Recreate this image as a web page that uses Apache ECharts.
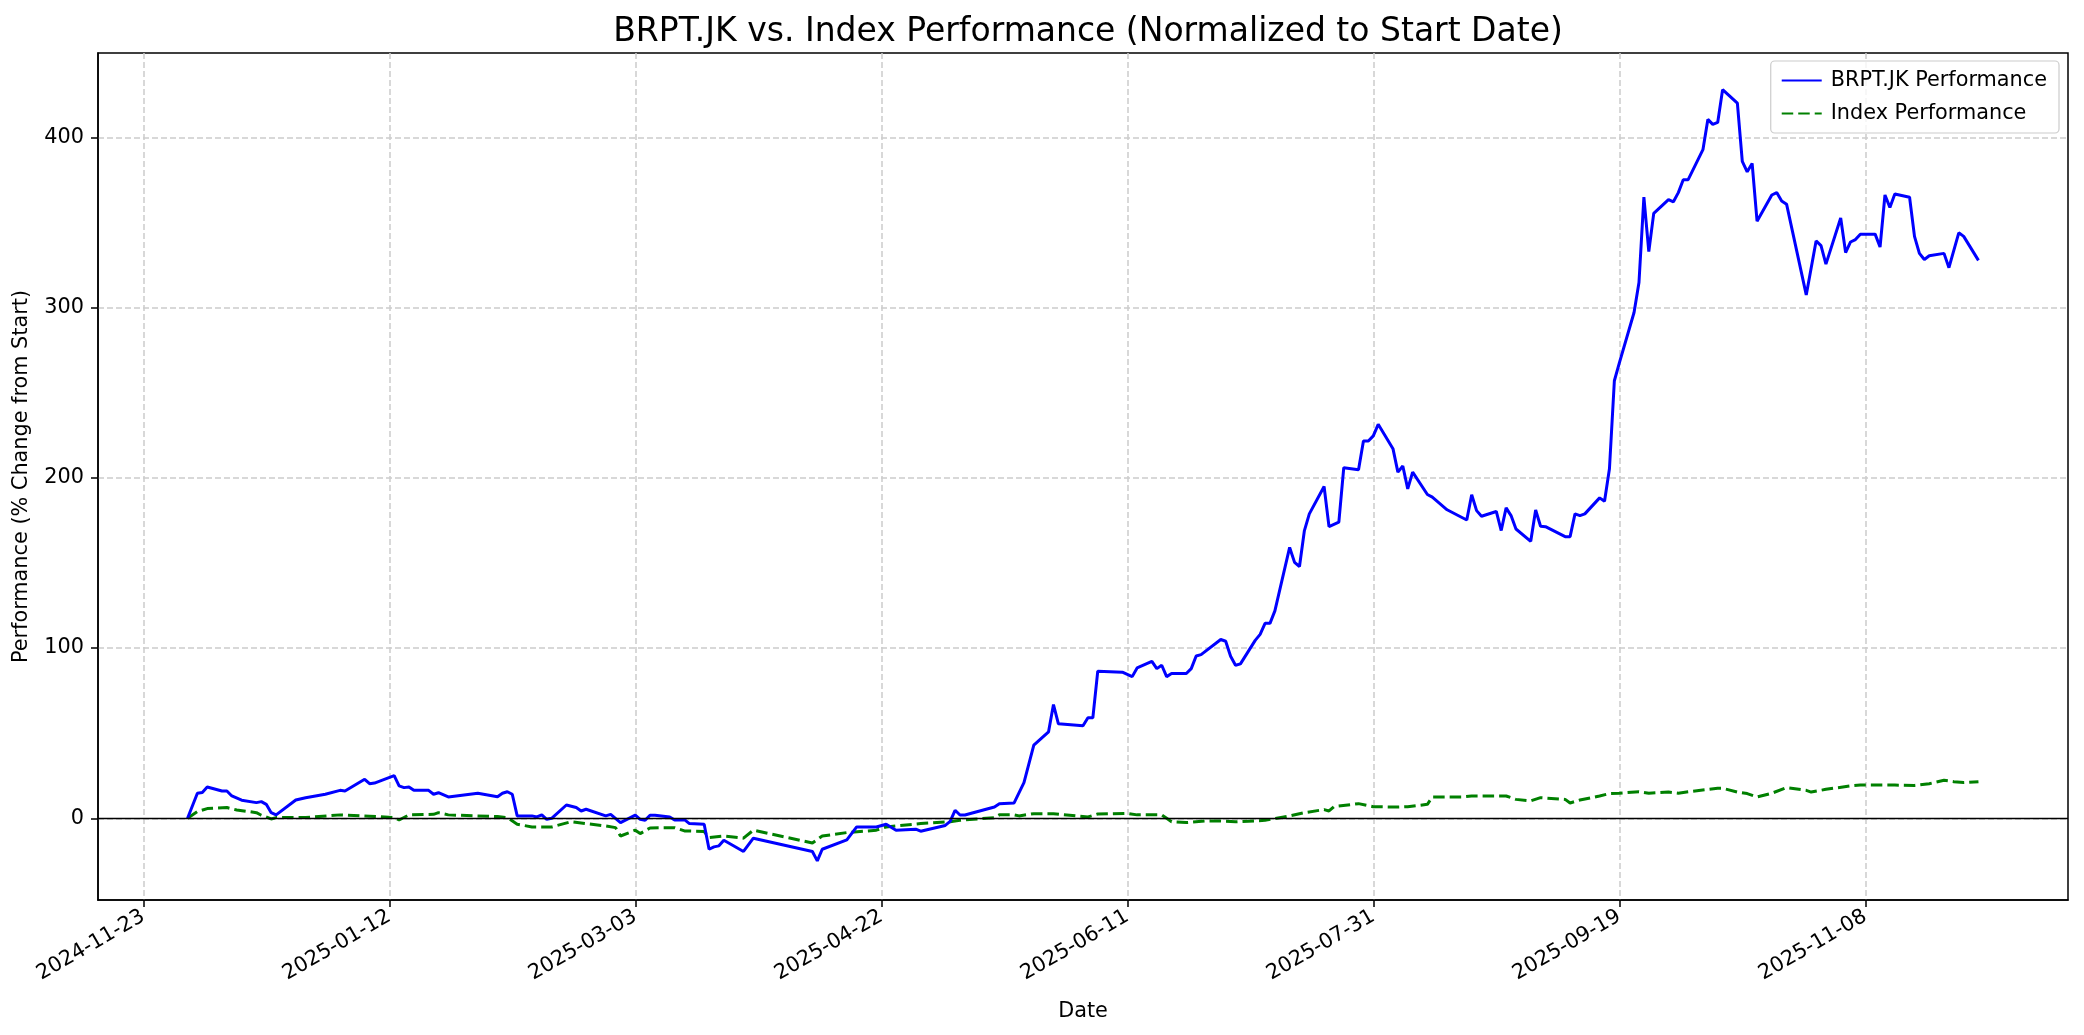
<!DOCTYPE html>
<html>
<head>
<meta charset="utf-8">
<script src="https://cdn.jsdelivr.net/npm/echarts@6/dist/echarts.min.js"></script>
<style>
html,body{margin:0;padding:0;background:#fff;}
#chart{width:2084px;height:1035px;}
</style>
</head>
<body>
<div id="chart"></div>
<script>
// ---- data ----
const startDate = '2024-11-23';
const tickLabels = ['2024-11-23','2025-01-12','2025-03-03','2025-04-22','2025-06-11','2025-07-31','2025-09-19','2025-11-08'];

const brptDates = ['2024-12-02','2024-12-04','2024-12-05','2024-12-06','2024-12-09','2024-12-10','2024-12-11','2024-12-13','2024-12-16','2024-12-17','2024-12-18','2024-12-19','2024-12-20','2024-12-24','2024-12-26','2024-12-30',
'2025-01-02','2025-01-03','2025-01-07','2025-01-08','2025-01-09','2025-01-13','2025-01-14','2025-01-15','2025-01-16','2025-01-17','2025-01-20','2025-01-21','2025-01-22','2025-01-24','2025-01-30',
'2025-02-03','2025-02-04','2025-02-05','2025-02-06','2025-02-07','2025-02-10','2025-02-11','2025-02-12','2025-02-13','2025-02-14','2025-02-17','2025-02-19','2025-02-20','2025-02-21','2025-02-25','2025-02-26','2025-02-28',
'2025-03-03','2025-03-04','2025-03-05','2025-03-06','2025-03-07','2025-03-10','2025-03-11','2025-03-13','2025-03-14','2025-03-17','2025-03-18','2025-03-19','2025-03-20','2025-03-21','2025-03-25','2025-03-27',
'2025-04-08','2025-04-09','2025-04-10','2025-04-15','2025-04-17','2025-04-21','2025-04-23','2025-04-25','2025-04-29','2025-04-30',
'2025-05-05','2025-05-06','2025-05-07','2025-05-08','2025-05-09','2025-05-15','2025-05-16','2025-05-19','2025-05-21','2025-05-23','2025-05-26','2025-05-27','2025-05-28',
'2025-06-02','2025-06-03','2025-06-04','2025-06-05','2025-06-10','2025-06-12','2025-06-13','2025-06-16','2025-06-17','2025-06-18','2025-06-19','2025-06-20','2025-06-23','2025-06-24','2025-06-25','2025-06-26','2025-06-30',
'2025-07-01','2025-07-02','2025-07-03','2025-07-04','2025-07-07','2025-07-08','2025-07-09','2025-07-10','2025-07-11','2025-07-14','2025-07-15','2025-07-16','2025-07-17','2025-07-18','2025-07-21','2025-07-22','2025-07-24','2025-07-25','2025-07-28','2025-07-29','2025-07-30','2025-07-31',
'2025-08-01','2025-08-04','2025-08-05','2025-08-06','2025-08-07','2025-08-08','2025-08-11','2025-08-12','2025-08-15','2025-08-19','2025-08-20','2025-08-21','2025-08-22','2025-08-25','2025-08-26','2025-08-27','2025-08-28','2025-08-29',
'2025-09-01','2025-09-02','2025-09-03','2025-09-04','2025-09-08','2025-09-09','2025-09-10','2025-09-11','2025-09-12','2025-09-15','2025-09-16','2025-09-17','2025-09-18','2025-09-19','2025-09-22','2025-09-23','2025-09-24','2025-09-25','2025-09-26','2025-09-29','2025-09-30',
'2025-10-01','2025-10-02','2025-10-03','2025-10-06','2025-10-07','2025-10-08','2025-10-09','2025-10-10','2025-10-13','2025-10-14','2025-10-15','2025-10-16','2025-10-17','2025-10-20','2025-10-21','2025-10-22','2025-10-23','2025-10-27','2025-10-29','2025-10-30','2025-10-31',
'2025-11-03','2025-11-04','2025-11-05','2025-11-06','2025-11-07','2025-11-10','2025-11-11','2025-11-12','2025-11-13','2025-11-14','2025-11-17','2025-11-18','2025-11-19','2025-11-20','2025-11-21','2025-11-24','2025-11-25','2025-11-27','2025-11-28','2025-12-01'];

const brptValues = [0,14.7,15.2,18.4,16.0,16.0,13.1,10.6,9.2,9.8,8.2,3.3,2.0,10.7,12.1,14.1,
16.4,16.0,22.9,20.3,20.7,25.0,19.0,18.0,18.4,16.4,16.4,14.1,15.0,12.5,14.7,
12.7,14.7,15.6,14.1,1.4,1.4,0.8,2.0,-0.6,0,7.8,6.3,4.3,5.3,1.4,2.3,-2.5,
1.8,-0.6,-1.2,1.8,1.8,0.8,-1.0,-0.8,-3.1,-3.5,-18.2,-16.8,-16.2,-12.9,-19.5,-11.7,
-19.5,-25.0,-18.2,-12.7,-5.1,-5.1,-3.5,-7.0,-6.4,-7.6,
-4.2,-1.8,4.7,1.9,1.9,6.6,8.5,9.0,20.9,43.0,50.8,66.8,55.5,
54.3,59.0,59.0,86.4,85.8,83.2,88.3,92.2,87.9,89.9,83.2,85.0,85.0,87.9,95.3,96.1,105.0,
104.0,95.2,89.9,90.7,104.5,108.0,114.5,114.5,121.8,159.1,150.3,147.9,169.0,178.8,194.9,171.3,173.9,205.9,204.7,221.6,221.6,224.6,
231.4,217.1,203.3,206.9,193.5,203.3,190.2,188.6,181.2,175.2,190.0,180.7,177.4,180.2,169.0,182.3,177.8,169.9,
162.7,181.1,171.5,171.3,165.4,165.4,178.8,177.8,178.8,188.2,186.2,205.3,257.0,267.3,297.1,314.7,364.8,332.8,355.3,363.4,362.1,
367.5,375.1,375.1,392.7,410.5,407.6,408.7,428.0,420.0,385.9,379.7,384.6,350.7,366.1,367.5,362.6,360.7,307.4,339.1,336.4,325.5,
352.6,332.3,338.5,339.9,343.1,343.1,335.5,366.1,358.8,366.7,364.8,341.8,331.8,328.2,330.4,331.8,323.4,343.9,341.8,327.7];

const indexDates = ['2024-12-02','2024-12-04','2024-12-06','2024-12-10','2024-12-12','2024-12-16','2024-12-17','2024-12-19','2024-12-20','2024-12-26',
'2025-01-02','2025-01-08','2025-01-13','2025-01-14','2025-01-16','2025-01-21','2025-01-22','2025-01-24',
'2025-02-03','2025-02-05','2025-02-07','2025-02-10','2025-02-14','2025-02-18','2025-02-21','2025-02-25','2025-02-27','2025-02-28',
'2025-03-03','2025-03-04','2025-03-06','2025-03-11','2025-03-13','2025-03-17','2025-03-18','2025-03-21','2025-03-25','2025-03-27',
'2025-04-08','2025-04-10','2025-04-15','2025-04-21','2025-04-23','2025-04-30',
'2025-05-06','2025-05-08','2025-05-15','2025-05-16','2025-05-19','2025-05-20','2025-05-23','2025-05-27',
'2025-06-03','2025-06-05','2025-06-11','2025-06-13','2025-06-18','2025-06-19','2025-06-20','2025-06-23','2025-06-27','2025-06-30',
'2025-07-03','2025-07-09','2025-07-14','2025-07-17','2025-07-21','2025-07-22','2025-07-23','2025-07-28','2025-07-31',
'2025-08-05','2025-08-07','2025-08-11','2025-08-12','2025-08-18','2025-08-20','2025-08-27','2025-08-29',
'2025-09-01','2025-09-03','2025-09-08','2025-09-09','2025-09-11','2025-09-15','2025-09-17','2025-09-19','2025-09-23','2025-09-25','2025-09-29',
'2025-10-01','2025-10-03','2025-10-09','2025-10-10','2025-10-13','2025-10-15','2025-10-17','2025-10-20','2025-10-23','2025-10-27','2025-10-28','2025-10-31',
'2025-11-05','2025-11-07','2025-11-14','2025-11-18','2025-11-21','2025-11-24','2025-11-26','2025-11-28','2025-12-01'];

const indexValues = [0,3.9,5.7,6.3,4.9,3.3,1.8,-0.4,0.4,0.4,
2.0,1.2,0.4,-1.0,2.0,2.3,3.3,2.0,
1.0,0.4,-3.5,-5.1,-5.1,-2.0,-3.1,-4.5,-5.5,-10.4,
-7.0,-9.0,-5.7,-5.5,-7.4,-7.8,-11.3,-10.4,-11.7,-7.0,
-14.5,-10.4,-8.4,-7.0,-5.1,-3.1,
-2.0,-1.2,0.4,2.0,2.0,1.4,2.7,2.7,
0.8,2.5,2.9,2.0,2.0,0,-2.0,-2.5,-1.6,-1.6,
-2.1,-1.2,1.4,3.3,5.1,4.3,6.8,8.6,6.8,
6.6,6.8,8.2,12.5,12.5,13.1,13.1,11.1,
10.2,12.1,11.1,9.0,10.7,13.1,14.5,14.7,15.6,14.7,15.4,
14.7,15.6,17.6,17.6,15.4,14.5,12.5,14.7,18.0,16.4,15.4,17.0,
19.0,19.5,19.5,19.3,20.3,22.3,21.5,21.0,21.5];

// ---- helpers ----
const DAY = 86400000;
function toMs(s){const p=s.split('-').map(Number);return Date.UTC(p[0],p[1]-1,p[2]);}
const origin = toMs(startDate);
function dayOffset(s){return (toMs(s)-origin)/DAY;}
function offsetToDate(v){return new Date(origin+Math.round(v)*DAY).toISOString().slice(0,10);}

const brptData = brptDates.map((d,i)=>[dayOffset(d), brptValues[i]]);
const indexData = indexDates.map((d,i)=>[dayOffset(d), indexValues[i]]);

const FONT = 'DejaVu Sans';
const FS = 20.8;
const GRID = {left:98,right:16,top:53,bottom:135};
const gridCenterX = GRID.left + (2084 - GRID.left - GRID.right) / 2;
const chart = echarts.init(document.getElementById('chart'), null, {renderer:'canvas'});
const gridLine = {show:true,showMinLine:false,showMaxLine:false,lineStyle:{color:'#cbcbcb',width:1.5,type:[6,3]}};
chart.setOption({
  animation:false,
  backgroundColor:'#ffffff',
  textStyle:{fontFamily:FONT},
  title:{
    text:'BRPT.JK vs. Index Performance (Normalized to Start Date)',
    left:gridCenterX, top:11, textAlign:'center',
    textStyle:{fontFamily:FONT,fontSize:33,fontWeight:'normal',color:'#000'}
  },
  legend:{
    orient:'vertical', right:25, top:61,
    padding:[9,12,9,10],
    itemGap:12, itemWidth:40, itemHeight:20,
    borderColor:'#cccccc', borderWidth:1.2, borderRadius:4,
    backgroundColor:'rgba(255,255,255,0.8)',
    itemStyle:{color:'rgba(0,0,0,0)',borderWidth:0},
    textStyle:{fontFamily:FONT,fontSize:FS,color:'#000',padding:[0,0,0,4]},
    data:['BRPT.JK Performance','Index Performance']
  },
  grid:Object.assign({show:true,borderColor:'#000',borderWidth:1.5,backgroundColor:'transparent'},GRID),
  xAxis:{
    type:'value', min:-9.2, max:391.2, minInterval:50, maxInterval:50, splitNumber:8,
    name:'Date', nameLocation:'middle', nameGap:101,
    nameTextStyle:{fontFamily:FONT,fontSize:FS,color:'#000'},
    axisLine:{show:true,onZero:false,lineStyle:{color:'#000',width:1.5}},
    axisTick:{show:true,length:7,lineStyle:{color:'#000',width:1.5}},
    axisLabel:{rotate:30,fontFamily:FONT,fontSize:FS,color:'#000',margin:15,showMinLabel:false,showMaxLabel:false,
      formatter:function(v){return offsetToDate(v);}},
    splitLine:gridLine
  },
  yAxis:{
    type:'value', min:-48, max:449.5, minInterval:100, maxInterval:100,
    name:'Performance (% Change from Start)', nameLocation:'middle', nameGap:66, nameRotate:90,
    nameTextStyle:{fontFamily:FONT,fontSize:FS,color:'#000'},
    axisLine:{show:true,onZero:false,lineStyle:{color:'#000',width:1.5}},
    axisTick:{show:true,length:7,lineStyle:{color:'#000',width:1.5}},
    axisLabel:{fontFamily:FONT,fontSize:FS,color:'#000',margin:14,showMinLabel:false,showMaxLabel:false},
    splitLine:gridLine
  },
  series:[
    {
      name:'BRPT.JK Performance', type:'line', data:brptData,
      symbol:'none', showSymbol:false,
      lineStyle:{color:'#0000ff',width:3}, itemStyle:{color:'#0000ff'},
      z:3
    },
    {
      name:'Index Performance', type:'line', data:indexData,
      symbol:'none', showSymbol:false,
      lineStyle:{color:'#008000',width:3,type:[11.5,5]}, itemStyle:{color:'#008000'},
      z:2,
      markLine:{silent:true,symbol:'none',label:{show:false},
        lineStyle:{color:'#000',width:1.3,type:'solid'},
        data:[{yAxis:0}]}
    }
  ]
});
</script>
</body>
</html>
